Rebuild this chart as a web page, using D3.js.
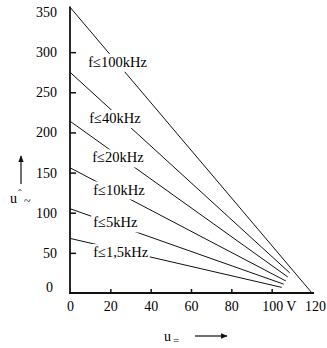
<!DOCTYPE html>
<html><head><meta charset="utf-8">
<script src="https://cdn.jsdelivr.net/npm/d3@7"></script>
<style>
html,body{margin:0;padding:0;background:#fff;}
</style>
</head><body>
<svg id="c" width="327" height="348"></svg>
<script>
// Data
const seriesNames = ["f≤100kHz","f≤40kHz","f≤20kHz","f≤10kHz","f≤5kHz","f≤1,5kHz"];
const startU = [0,0,0,0,0,0];
const startV = [356,275,214,156,105,68];
const endU   = [120,109,108,107,106,105];
const endV   = [0,25,20,15,11,7];
const labelU = [9,9.5,11,11.5,11.5,11.5];
const labelV = [288,218,169,129,88,51];
const xTicks = [0,20,40,60,80,100,120];
const yTicks = [0,50,100,150,200,250,300,350];

const FF = '"Liberation Serif"';
const svg = d3.select("#c");
const x = d3.scaleLinear().domain([0,120]).range([70,312]);
const y = d3.scaleLinear().domain([0,350]).range([293,12]);

// lines
const lines = svg.append("g");
seriesNames.forEach((n,i)=>{
  lines.append("line")
    .attr("x1",x(startU[i])).attr("y1",y(startV[i]))
    .attr("x2",x(endU[i])).attr("y2",y(endV[i]))
    .attr("stroke","#111").attr("stroke-width",1);
});

// labels with white background
const lg = svg.append("g");
seriesNames.forEach((n,i)=>{
  const g = lg.append("g");
  const t = g.append("text").attr("x",x(labelU[i])).attr("y",y(labelV[i])).attr("dy","0.35em")
    .style("font-family",FF).style("font-size","14.5px").text(n);
  const b = t.node().getBBox();
  g.insert("rect","text").attr("x",b.x-2).attr("y",b.y).attr("width",b.width+3).attr("height",b.height+2).attr("fill","#fff");
});

// y axis
const ya = svg.append("g").attr("transform",`translate(${x(0)},0)`)
  .call(d3.axisLeft(y).tickValues(yTicks).tickSizeInner(-6).tickSizeOuter(0).tickPadding(13));
ya.select(".domain").remove();
ya.selectAll(".tick line").attr("stroke","#111").attr("stroke-width",1.5);
ya.selectAll(".tick text").style("font-size","14px").style("font-family",FF).attr("fill","#000");
ya.selectAll(".tick").filter(d=>d===0).select("text").attr("dx",-4).attr("dy","-0.1em");
ya.selectAll(".tick").filter(d=>d===0||d===350).select("line").remove();
svg.append("line").attr("x1",x(0)).attr("x2",x(0)).attr("y1",y(357)).attr("y2",y(0)+1)
  .attr("stroke","#111").attr("stroke-width",1.8);

// x axis
const xa = svg.append("g").attr("transform",`translate(0,${y(0)})`)
  .call(d3.axisBottom(x).tickValues(xTicks).tickSizeInner(-4).tickSizeOuter(0).tickPadding(8)
    .tickFormat(d=>d));
xa.select(".domain").remove();
xa.selectAll(".tick line").attr("stroke","#111").attr("stroke-width",1.5);
xa.selectAll(".tick").filter(d=>d===0||d===120).select("line").remove();
xa.selectAll(".tick text").style("font-size","14px").style("font-family",FF).attr("fill","#000");
xa.selectAll(".tick").filter(d=>d===120).select("text").attr("dx",3);
xa.selectAll(".tick").filter(d=>d===100).select("text")
  .append("tspan").attr("dx",3).text("V");
xa.selectAll(".tick").filter(d=>d===100).select("text").attr("text-anchor","start").attr("x",-10);
svg.append("line").attr("x1",x(0)-1).attr("x2",x(120)+2).attr("y1",y(0)).attr("y2",y(0))
  .attr("stroke","#111").attr("stroke-width",1.8);

// axis titles
svg.append("defs").append("marker").attr("id","ah").attr("viewBox","0 0 10 10")
  .attr("refX",9).attr("refY",5).attr("markerWidth",7).attr("markerHeight",7).attr("orient","auto")
  .attr("markerUnits","userSpaceOnUse")
  .append("path").attr("d","M0,1 L10,5 L0,9 Z").attr("fill","#111");
svg.append("line").attr("x1",21).attr("y1",184).attr("x2",21).attr("y2",156)
  .attr("stroke","#111").attr("stroke-width",1.2).attr("marker-end","url(#ah)");
svg.append("text").attr("x",10).attr("y",203).style("font-size","14px").style("font-family",FF).text("u");
svg.append("text").attr("x",18).attr("y",197).style("font-size","11px").style("font-family",FF).text("ˆ");
svg.append("text").attr("x",24).attr("y",205).style("font-size","12px").style("font-family",FF).text("~");

svg.append("text").attr("x",164).attr("y",341).style("font-size","14px").style("font-family",FF).text("u");
svg.append("text").attr("x",173).attr("y",344).style("font-size","11px").style("font-family",FF).text("=");
svg.append("line").attr("x1",195).attr("y1",336).attr("x2",227).attr("y2",336)
  .attr("stroke","#111").attr("stroke-width",1.2).attr("marker-end","url(#ah)");
</script>
</body></html>
